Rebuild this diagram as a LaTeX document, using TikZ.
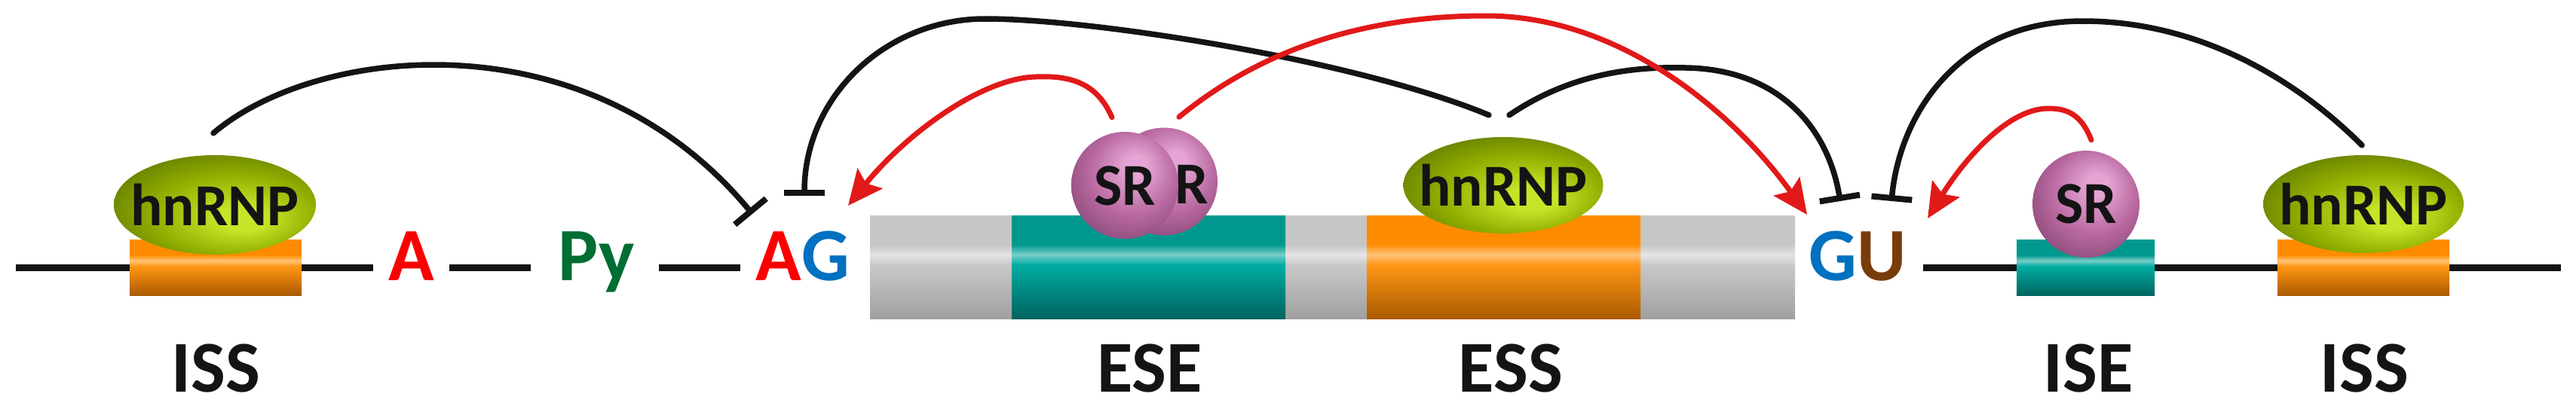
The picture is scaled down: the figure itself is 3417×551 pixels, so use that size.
\documentclass[tikz,border=0pt]{standalone}
\usepackage{fontspec}
\setmainfont{Carlito}
\usetikzlibrary{arrows.meta,shapes.geometric}
\definecolor{gT}{RGB}{198,198,198}
\definecolor{gH}{RGB}{228,228,228}
\definecolor{gM}{RGB}{200,200,200}
\definecolor{gB}{RGB}{160,160,160}
\definecolor{tT}{RGB}{0,152,142}
\definecolor{tH}{RGB}{120,205,200}
\definecolor{tM}{RGB}{0,172,162}
\definecolor{tB}{RGB}{0,100,95}
\definecolor{oT}{RGB}{255,140,0}
\definecolor{oH}{RGB}{255,195,120}
\definecolor{oM}{RGB}{255,150,20}
\definecolor{oB}{RGB}{170,90,0}
\definecolor{hnH}{RGB}{200,228,40}
\definecolor{hnM}{RGB}{145,175,0}
\definecolor{hnE}{RGB}{105,130,0}
\definecolor{srH}{RGB}{228,165,212}
\definecolor{srM}{RGB}{185,105,160}
\definecolor{srE}{RGB}{135,72,118}
\definecolor{redA}{RGB}{225,25,25}
\definecolor{ntRed}{RGB}{250,0,0}
\definecolor{ntGreen}{RGB}{0,110,50}
\definecolor{ntBlue}{RGB}{0,112,192}
\definecolor{ntBrown}{RGB}{120,60,10}
\definecolor{ink}{RGB}{20,20,20}
\pgfdeclareverticalshading{grayS}{100bp}{color(0bp)=(gB); color(25bp)=(gB); color(51bp)=(gM); color(56bp)=(gH); color(61bp)=(gT); color(75bp)=(gT); color(100bp)=(gT)}
\pgfdeclareverticalshading{tealS}{100bp}{color(0bp)=(tB); color(25bp)=(tB); color(51bp)=(tM); color(56bp)=(tH); color(61bp)=(tT); color(75bp)=(tT); color(100bp)=(tT)}
\pgfdeclareverticalshading{oranS}{100bp}{color(0bp)=(oB); color(25bp)=(oB); color(51bp)=(oM); color(56bp)=(oH); color(61bp)=(oT); color(75bp)=(oT); color(100bp)=(oT)}
\pgfdeclareradialshading{hnS}{\pgfpoint{8bp}{-8bp}}{color(0bp)=(hnH); color(6bp)=(hnH); color(20bp)=(hnM); color(31bp)=(hnE); color(50bp)=(hnE)}
\pgfdeclareradialshading{srS}{\pgfpoint{6bp}{10bp}}{color(0bp)=(srH); color(5bp)=(srH); color(20bp)=(srM); color(33bp)=(srE); color(50bp)=(srE)}
\tikzset{
 rna/.style={line width=9pt, ink},
 inhib/.style={line width=7.5pt, ink, line cap=round, -{Bar[width=54pt,line width=8pt]}},
 act/.style={line width=7pt, redA, line cap=round, -{Stealth[length=46pt,width=42pt,inset=8pt]}},
 ball/.style={ellipse, inner sep=0pt, draw=none},
 seg/.style={rectangle, inner sep=0pt, draw=none},
 lbl/.style={font=\bfseries\fontsize{97}{100}\selectfont, anchor=base, inner sep=0pt, text=ink},
 nt/.style={font=\bfseries\fontsize{100}{100}\selectfont, anchor=base, inner sep=0pt},
 ptxt/.style={font=\bfseries\fontsize{79}{80}\selectfont, inner sep=0pt, text=ink},
}
\begin{document}
\begin{tikzpicture}[x=1pt,y=-1pt]
\useasboundingbox (0,0) rectangle (3417,551);
% backbone
\draw[rna] (21,355) -- (495,355);
\draw[rna] (596,355) -- (704,355);
\draw[rna] (874,355) -- (982,355);
\draw[rna] (2551,355) -- (3397,355);
% boxes
\node[seg, shading=oranS, minimum width=228pt, minimum height=74pt] (issLbox) at (286,355) {};
\node[seg, shading=grayS, minimum width=1227pt, minimum height=137pt] (exon) at (1767.5,354.5) {};
\node[seg, shading=tealS, minimum width=363pt, minimum height=137pt] (esebox) at (1523.5,354.5) {};
\node[seg, shading=oranS, minimum width=363pt, minimum height=137pt] (essbox) at (1994.5,354.5) {};
\node[seg, shading=tealS, minimum width=183pt, minimum height=74pt] (isebox) at (2766.5,355) {};
\node[seg, shading=oranS, minimum width=228pt, minimum height=74pt] (issRbox) at (3135,355) {};
% balls
\node[ball, shading=hnS, minimum width=268pt, minimum height=132pt] (hnL) at (285,272) {};
\node[ptxt] (hnLt) at (hnL.center) {hnRNP};
\node[ball, shading=srS, minimum width=142pt, minimum height=143pt] (srB) at (1544,241) {};
\node[ptxt, anchor=west] (srBt) at (1558,245) {R};
\node[ball, shading=srS, minimum width=142pt, minimum height=142pt] (srF) at (1492,246) {};
\node[ptxt] (srFt) at ([yshift=-1pt]srF.center) {SR};
\node[ball, shading=hnS, minimum width=265pt, minimum height=128pt] (hnM) at (1994,246) {};
\node[ptxt] (hnMt) at (hnM.center) {hnRNP};
\node[ball, shading=srS, minimum width=142pt, minimum height=142pt] (srI) at (2767,271) {};
\node[ptxt] (srIt) at (srI.center) {SR};
\node[ball, shading=hnS, minimum width=266pt, minimum height=130pt] (hnR) at (3135,271) {};
\node[ptxt] (hnRt) at (hnR.center) {hnRNP};
% nucleotides
\node[nt, text=ntRed] (At) at (546,372) {A};
\node[nt, text=ntGreen] (Pyt) at (791,372) {Py};
\node[nt] (AGt) at (1065,372) {\textcolor{ntRed}{A}\textcolor{ntBlue}{G}};
\node[nt] (GUt) at (2464,372) {\textcolor{ntBlue}{G}\textcolor{ntBrown}{U}};
% labels
\node[lbl] (l1) at (286,520) {ISS};
\node[lbl] (l2) at (1525,520) {ESE};
\node[lbl] (l3) at (2004,520) {ESS};
\node[lbl] (l4) at (2770,520) {ISE};
\node[lbl] (l5) at (3136,520) {ISS};
% connector end points
\coordinate (hnLo) at ([xshift=-2pt,yshift=29pt]hnL.north);
\coordinate (hnMo1) at ([xshift=-19pt,yshift=29pt]hnM.north);
\coordinate (hnMo2) at ([xshift=8pt,yshift=29pt]hnM.north);
\coordinate (hnRo) at ([xshift=-2pt,yshift=13pt]hnR.north);
\coordinate (srFo) at ([xshift=-17pt,yshift=19pt]srF.north);
\coordinate (srBo) at ([xshift=20pt,yshift=14pt]srB.north);
\coordinate (srIo) at ([xshift=7pt,yshift=14pt]srI.north);
\coordinate (AGi1) at (998,284);
\coordinate (AGi2) at (1067,260);
\coordinate (AGa) at (1125,273);
\coordinate (GUi1) at (2441,267);
\coordinate (GUi2) at (2509,267);
\coordinate (GUa1) at (2397,285);
\coordinate (GUa2) at (2557,290);
% inhibitory arcs
\draw[inhib] (hnLo) .. controls (420,60) and (780,20) .. (AGi1);
\draw[inhib] (hnMo1) .. controls (1800,80) and (1450,25) .. (1307,25) .. controls (1175,25) and (1067,128) .. (AGi2);
\draw[inhib] (hnMo2) .. controls (2080,100) and (2160,88) .. (2236,90) .. controls (2360,92) and (2425,170) .. (GUi1);
\draw[inhib] (hnRo) .. controls (3030,90) and (2900,28) .. (2763,28) .. controls (2600,28) and (2520,150) .. (GUi2);
% activating arcs
\draw[act] (srFo) .. controls (1455,110) and (1420,100) .. (1374,102) .. controls (1300,104) and (1200,180) .. (AGa);
\draw[act] (srBo) .. controls (1680,60) and (1820,21) .. (1971,21) .. controls (2150,21) and (2300,150) .. (GUa1);
\draw[act] (srIo) .. controls (2760,150) and (2740,144) .. (2717,144) .. controls (2660,144) and (2600,220) .. (GUa2);
\end{tikzpicture}
\end{document}
